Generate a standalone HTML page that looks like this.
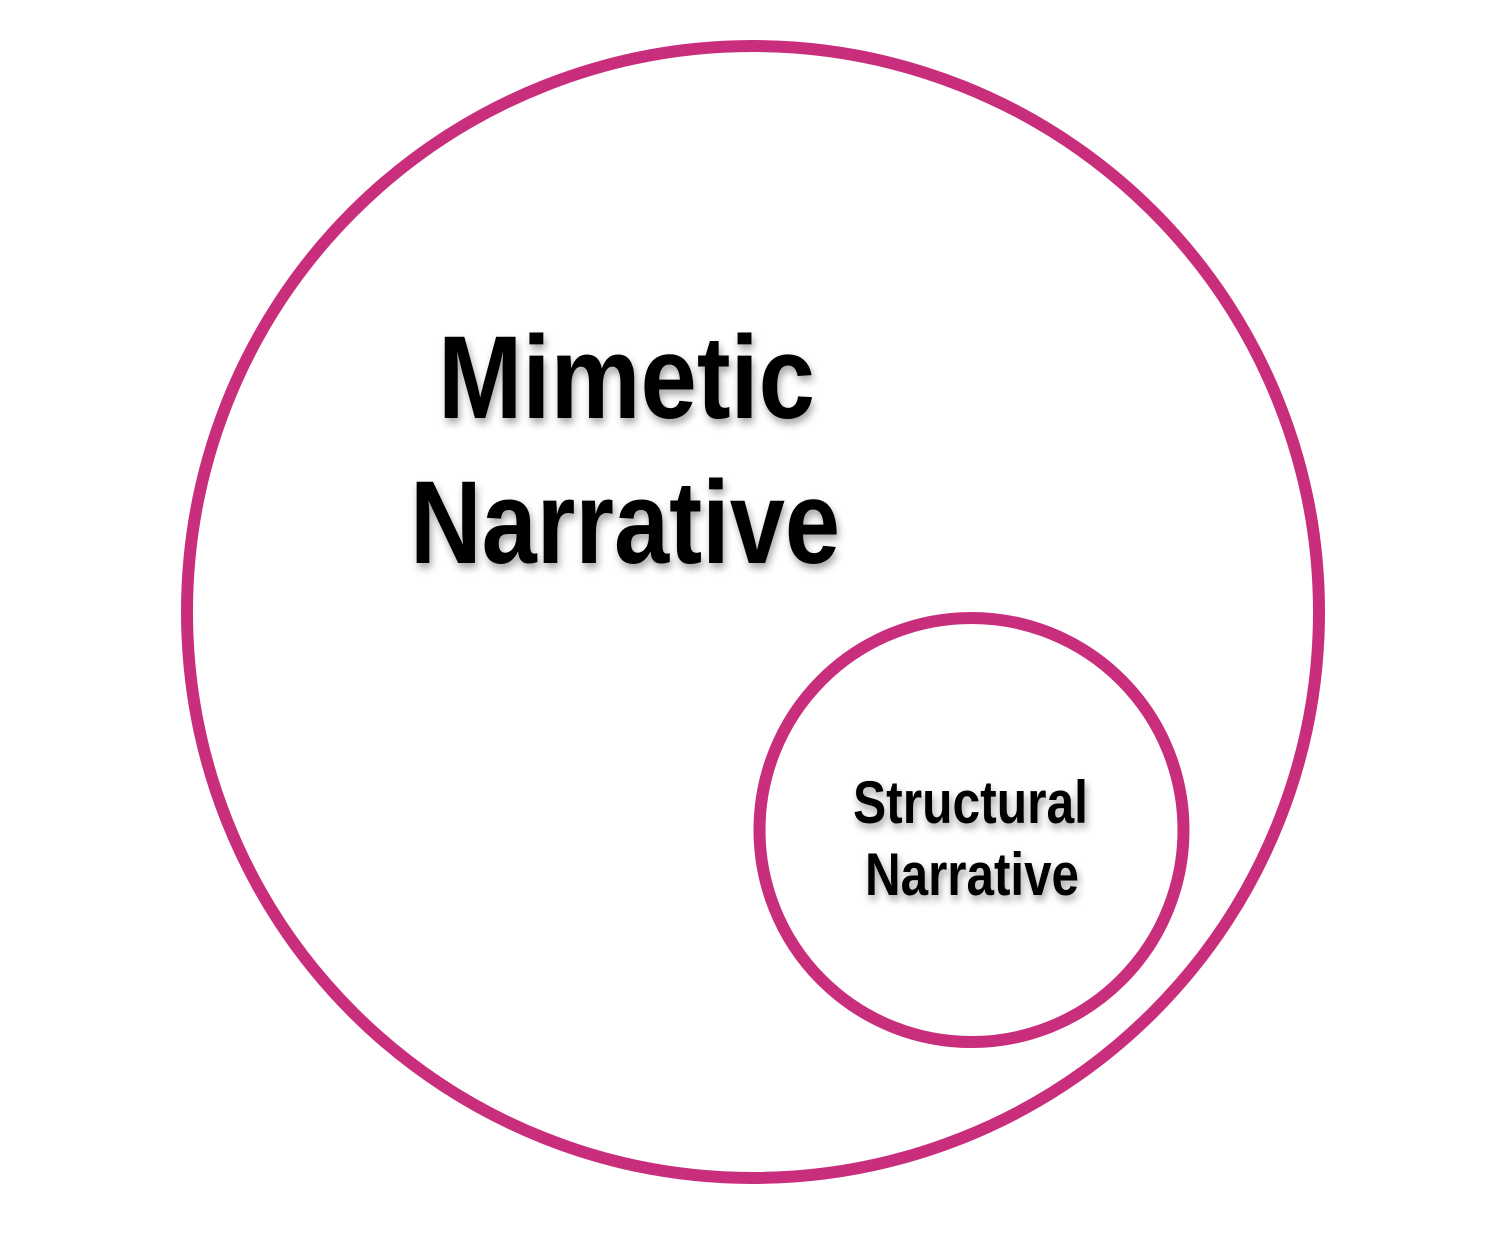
<!DOCTYPE html>
<html><head><meta charset="utf-8"><style>
html,body{margin:0;padding:0;background:#fff;}
svg{display:block;}
text{font-family:"Liberation Sans Narrow","Liberation Sans",sans-serif;font-weight:bold;fill:#000;}
</style></head><body>
<svg width="1488" height="1234" viewBox="0 0 1488 1234" xmlns="http://www.w3.org/2000/svg">
<defs><filter id="sh" x="-10%" y="-20%" width="130%" height="150%"><feDropShadow dx="2" dy="5" stdDeviation="4" flood-color="#000" flood-opacity="0.35"/></filter></defs>
<circle cx="753" cy="612" r="566" fill="none" stroke="#C82E7C" stroke-width="12"/>
<circle cx="971.5" cy="830" r="212" fill="none" stroke="#C82E7C" stroke-width="12"/>
<g filter="url(#sh)">
<text x="438" y="418" font-size="118" textLength="377" lengthAdjust="spacingAndGlyphs">Mimetic</text>
<text x="410" y="563" font-size="118" textLength="430" lengthAdjust="spacingAndGlyphs">Narrative</text>
<text x="853" y="823" font-size="60" textLength="235" lengthAdjust="spacingAndGlyphs">Structural</text>
<text x="865" y="895" font-size="60" textLength="214" lengthAdjust="spacingAndGlyphs">Narrative</text>
</g>
</svg>
</body></html>
